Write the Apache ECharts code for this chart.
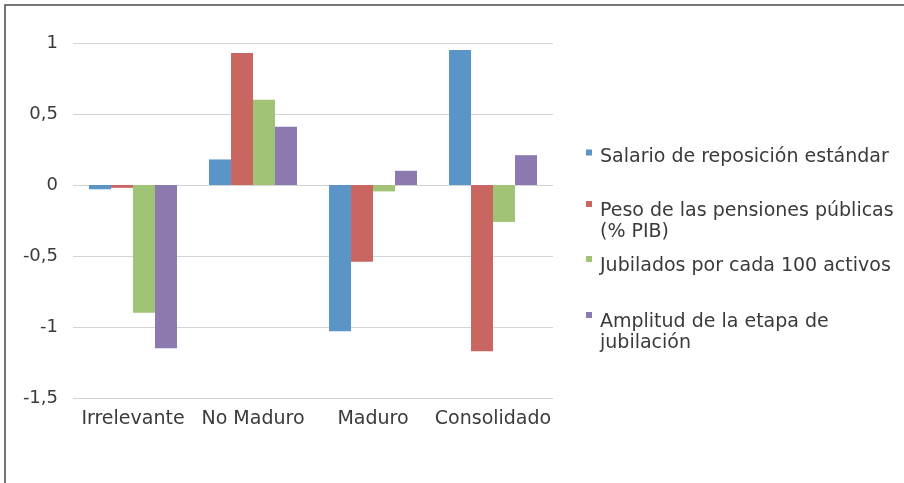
<!DOCTYPE html>
<html>
<head>
<meta charset="utf-8">
<script src="https://cdn.jsdelivr.net/npm/echarts@6/dist/echarts.min.js"></script>
<style>
  html, body { margin: 0; padding: 0; background: #fff; }
  #chart { width: 904px; height: 483px; }
</style>
</head>
<body>
<div id="chart"></div>
<script>
// categorias y series
var categories = ['Irrelevante', 'No Maduro', 'Maduro', 'Consolidado']
var seriesNames = [
  'Salario de reposición estándar',
  'Peso de las pensiones públicas (% PIB)',
  'Jubilados por cada 100 activos',
  'Amplitud de la etapa de jubilación'
]
var salario = [-0.03, 0.18, -1.03, 0.95]
var peso = [-0.02, 0.93, -0.54, -1.17]
var jubilados = [-0.90, 0.60, -0.045, -0.26]
var amplitud = [-1.15, 0.41, 0.10, 0.21]
var yTicks = [-1.5, -1, -0.5, 0, 0.5, 1]

var colors = ['#5B95C8', '#CA6662', '#A0C375', '#8C79B0']
var font = 'DejaVu Sans'
var textColor = '#3a3a3a'

var chart = echarts.init(document.getElementById('chart'))

// una leyenda por elemento; una linea vacia arriba baja el texto respecto al icono
function legendItem(name, lines, top, spacer) {
  return {
    data: [name],
    orient: 'vertical',
    left: 586,
    top: top,
    padding: 0,
    itemWidth: 6,
    itemHeight: 6,
    icon: 'rect',
    selectedMode: false,
    formatter: function () {
      return '{s| }\n' + lines.map(function (l) { return '{t|' + l + '}' }).join('\n')
    },
    textStyle: {
      rich: {
        s: { fontSize: 4, lineHeight: spacer },
        t: {
          fontFamily: font,
          fontSize: 19,
          lineHeight: 21,
          color: textColor,
          padding: [0, 0, 0, 3]
        }
      }
    }
  }
}

var option = {
  animation: false,
  color: colors,
  graphic: [{
    type: 'rect',
    shape: { x: 5, y: 5, width: 1000, height: 1000 },
    style: { fill: 'none', stroke: '#4a4a4a', lineWidth: 1.5 },
    silent: true
  }],
  legend: [
    legendItem(seriesNames[0], ['Salario de reposición estándar'], 140, 9),
    legendItem(seriesNames[1], ['Peso de las pensiones públicas', '(% PIB)'], 181, 36),
    legendItem(seriesNames[2], ['Jubilados por cada 100 activos'], 246.5, 15),
    legendItem(seriesNames[3], ['Amplitud de la etapa de', 'jubilación'], 292, 36)
  ],
  grid: {
    left: 73,
    right: 351,
    top: 43,
    bottom: 85,
    containLabel: false
  },
  xAxis: {
    type: 'category',
    data: categories,
    axisLine: { show: false, onZero: false },
    axisTick: { show: false },
    axisLabel: {
      interval: 0,
      margin: 12,
      fontFamily: font,
      fontSize: 19,
      color: textColor
    }
  },
  yAxis: {
    type: 'value',
    min: yTicks[0],
    max: yTicks[yTicks.length - 1],
    interval: 0.5,
    axisLine: { show: false },
    axisTick: { show: false },
    splitLine: { lineStyle: { color: '#D4D4D4', width: 1.2 } },
    axisLabel: {
      margin: 15,
      fontFamily: font,
      fontSize: 18,
      color: textColor,
      formatter: function (v) { return String(v).replace('.', ',') }
    }
  },
  series: [
    { name: seriesNames[0], type: 'bar', data: salario, barGap: '0%', barCategoryGap: '26.7%' },
    { name: seriesNames[1], type: 'bar', data: peso, barGap: '0%', barCategoryGap: '26.7%' },
    { name: seriesNames[2], type: 'bar', data: jubilados, barGap: '0%', barCategoryGap: '26.7%' },
    { name: seriesNames[3], type: 'bar', data: amplitud, barGap: '0%', barCategoryGap: '26.7%' }
  ]
}

chart.setOption(option)
</script>
</body>
</html>
